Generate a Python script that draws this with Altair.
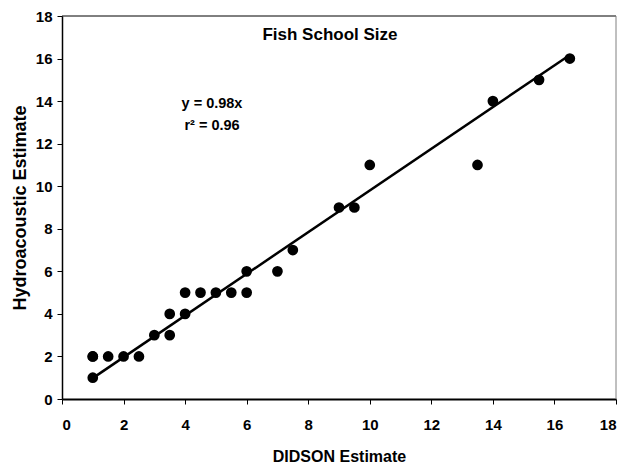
import altair as alt
import pandas as pd

# ---- data ----
didson = [1, 1, 1, 1.5, 2, 2.5, 3, 3.5, 3.5, 4, 4, 4.5, 5, 5.5, 6, 6, 7, 7.5, 9, 9.5, 10, 13.5, 14, 15.5, 16.5]
hydro = [1, 2, 2, 2, 2, 2, 3, 3, 4, 4, 5, 5, 5, 5, 5, 6, 6, 7, 9, 9, 11, 11, 14, 15, 16]
fit_slope = 0.98
fit_x = [1, 16.5]
x_ticks = [0, 2, 4, 6, 8, 10, 12, 14, 16, 18]
y_ticks = [0, 2, 4, 6, 8, 10, 12, 14, 16, 18]

title_text = "Fish School Size"
eq_lines = ["y = 0.98x", "r² = 0.96"]

FONT = "Liberation Sans"
W, H = 554, 383

pts = pd.DataFrame({"DIDSON": didson, "Hydro": hydro})
fit = pd.DataFrame({"DIDSON": fit_x})

xscale = alt.Scale(domain=[0, 18], nice=False, zero=False)
yscale = alt.Scale(domain=[0, 18], nice=False, zero=False)

x_axis = alt.Axis(values=x_ticks, title="DIDSON Estimate", grid=False, tickSize=5,
                  labelPadding=13, titlePadding=16, titleFontSize=16,
                  domainWidth=2, tickWidth=1)
y_axis = alt.Axis(values=y_ticks, title="Hydroacoustic Estimate", grid=False, tickSize=5,
                  labelPadding=5, titlePadding=6, titleFontSize=18,
                  domainWidth=1.5, tickWidth=1)

X = alt.X("DIDSON:Q", scale=xscale, axis=x_axis)
Y = alt.Y("Hydro:Q", scale=yscale, axis=y_axis)

points = alt.Chart(pts).mark_circle(size=115, color="black", opacity=1).encode(x=X, y=Y)

line = alt.Chart(fit).transform_calculate(
    Hydro=f"{fit_slope} * datum.DIDSON"
).mark_line(color="black", strokeWidth=2.5).encode(x=X, y=Y)

one = alt.Data(values=[{}])
top_rule = alt.Chart(one).mark_rule(color="black", strokeWidth=1).encode(
    x=alt.value(0), x2=alt.value(W), y=alt.value(0))
right_rule = alt.Chart(one).mark_rule(color="#808080", strokeWidth=1).encode(
    x=alt.value(W), y=alt.value(0), y2=alt.value(H))

title = alt.Chart(one).mark_text(font=FONT, fontSize=17, fontWeight="bold", color="black",
                                 align="center", baseline="alphabetic").encode(
    x=alt.value(268), y=alt.value(24), text=alt.value(title_text))

eq1 = alt.Chart(one).mark_text(font=FONT, fontSize=14.5, fontWeight="bold", color="black",
                               align="center", baseline="alphabetic").encode(
    x=alt.value(150), y=alt.value(92), text=alt.value(eq_lines[0]))
eq2 = alt.Chart(one).mark_text(font=FONT, fontSize=14.5, fontWeight="bold", color="black",
                               align="center", baseline="alphabetic").encode(
    x=alt.value(150), y=alt.value(114), text=alt.value(eq_lines[1]))

chart = alt.layer(top_rule, right_rule, line, points, title, eq1, eq2).properties(
    width=W, height=H,
    padding={"left": 54, "top": 8, "right": 2, "bottom": 68},
    autosize=alt.AutoSizeParams(type="none"),
).configure_view(stroke=None).configure_axis(
    labelFont=FONT, labelFontSize=15, labelFontWeight="bold", labelColor="black",
    titleFont=FONT, titleFontWeight="bold", titleColor="black",
    domainColor="black", tickColor="black",
)

chart.save("out.html", embed_options={"renderer": "svg", "actions": False})
